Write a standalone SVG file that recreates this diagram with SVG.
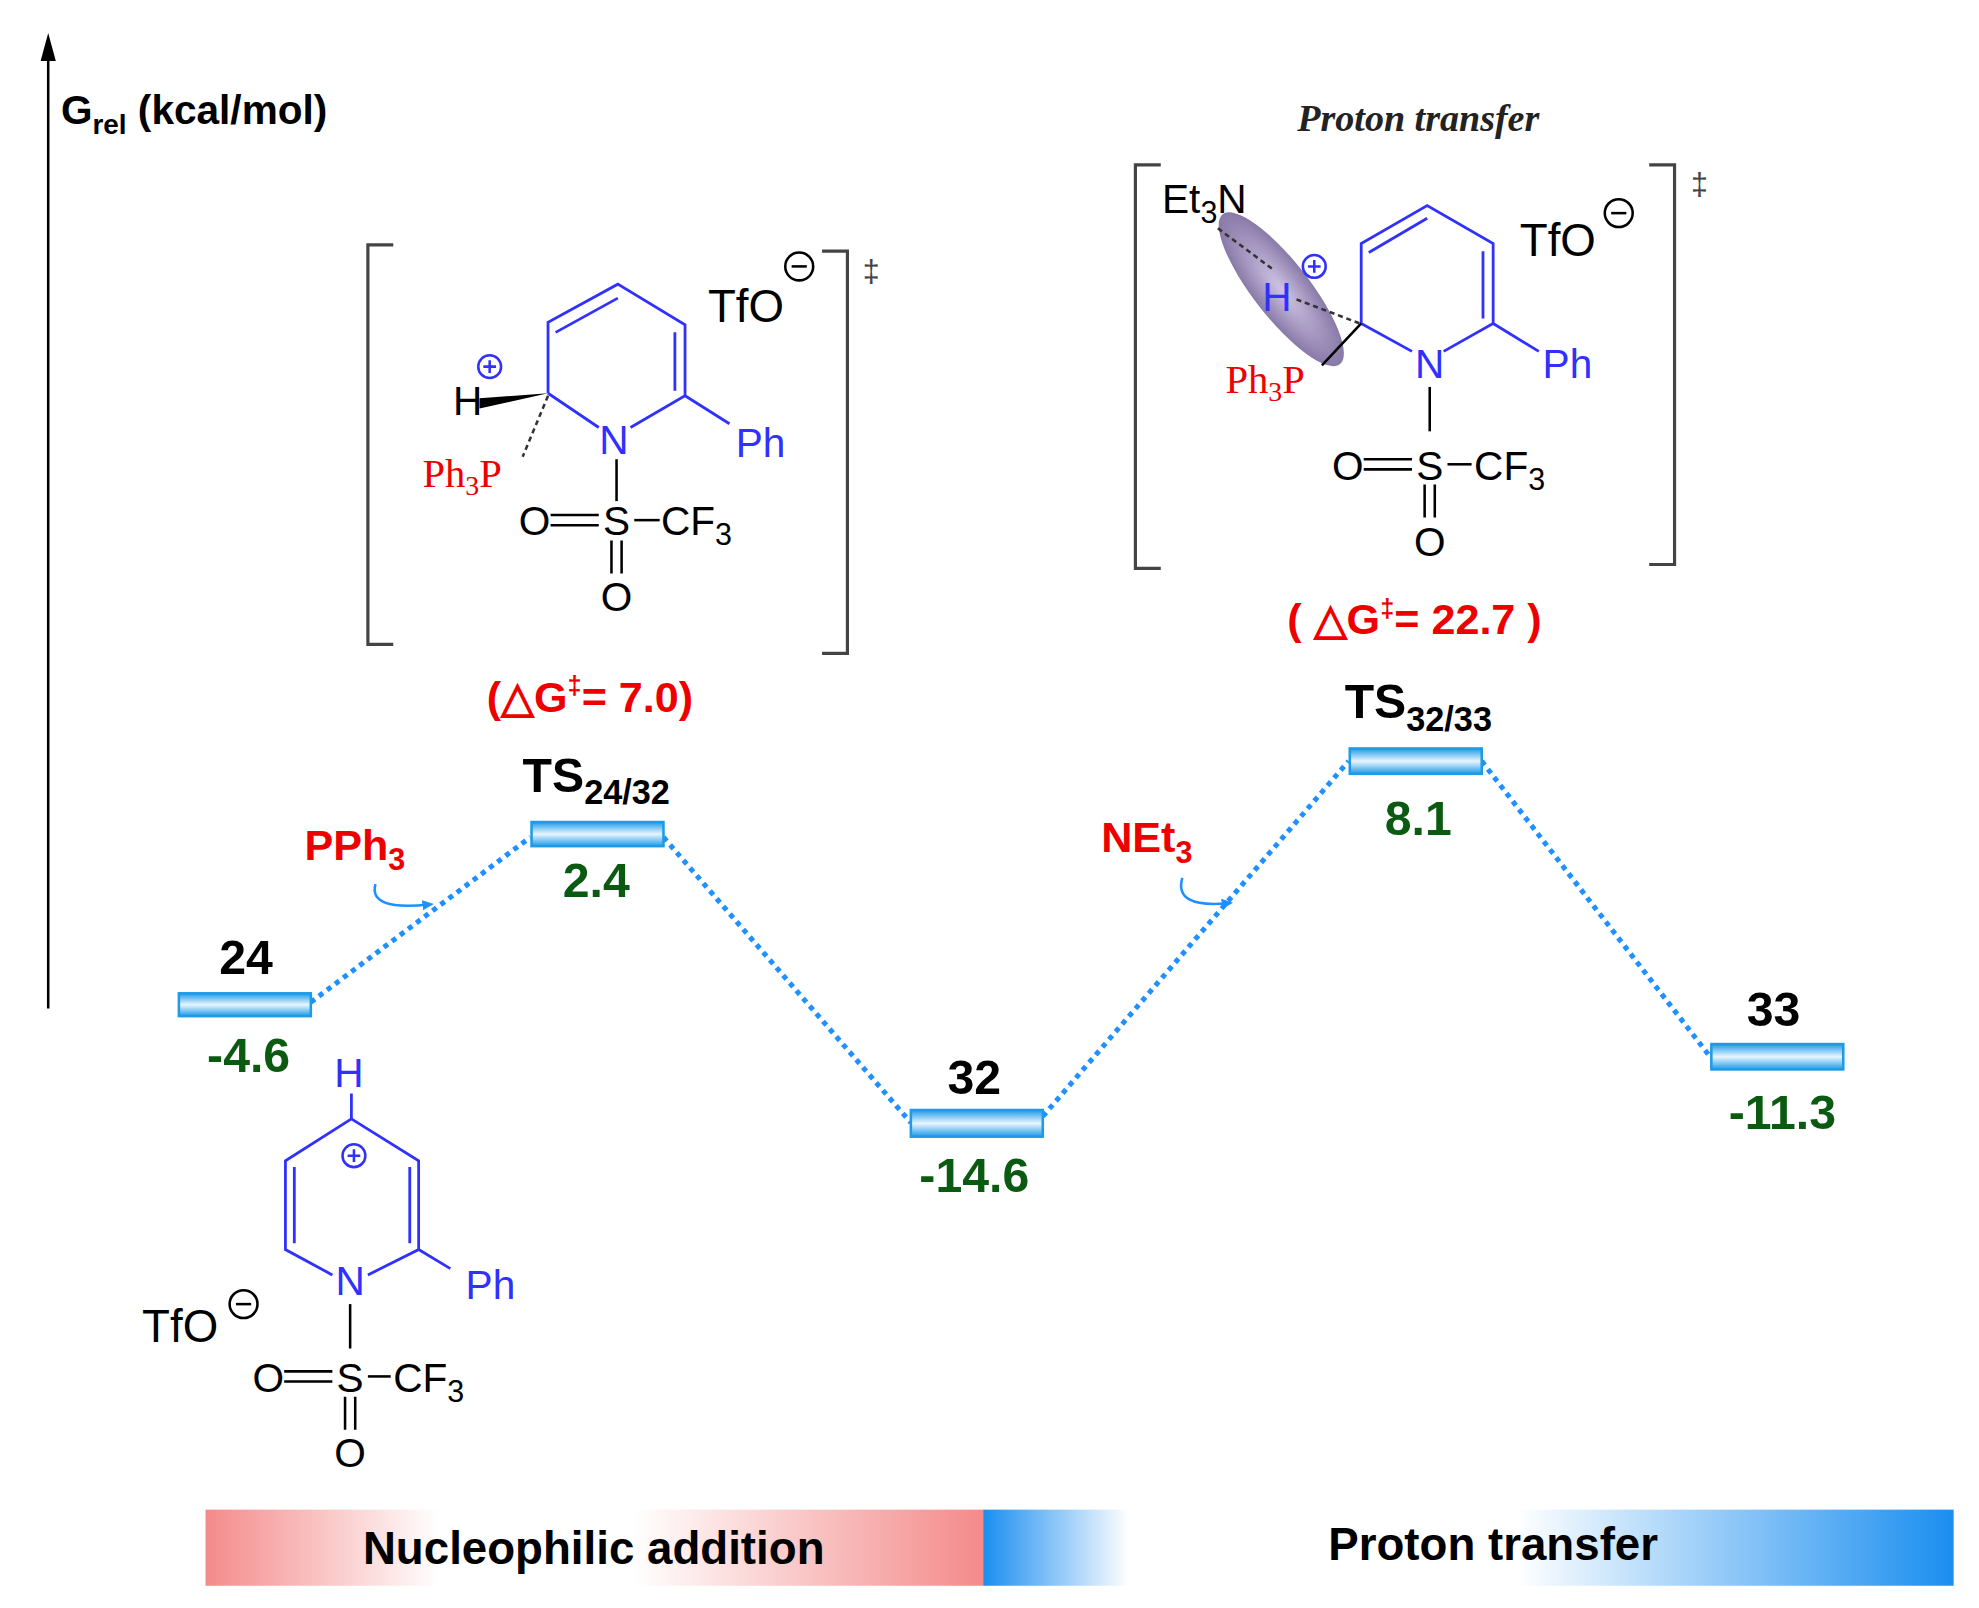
<svg xmlns="http://www.w3.org/2000/svg" width="1979" height="1608" viewBox="0 0 1979 1608">
<defs>
<linearGradient id="bar" x1="0" y1="0" x2="0" y2="1"><stop offset="0" stop-color="#1e9be8"/><stop offset="0.5" stop-color="#e8f6ff"/><stop offset="1" stop-color="#1e9be8"/></linearGradient>
<linearGradient id="pink" x1="0" y1="0" x2="1" y2="0"><stop offset="0" stop-color="#f48a8a"/><stop offset="0.3" stop-color="#fff"/><stop offset="0.55" stop-color="#fff"/><stop offset="1" stop-color="#f48a8a"/></linearGradient>
<linearGradient id="blue" x1="0" y1="0" x2="1" y2="0"><stop offset="0" stop-color="#1a8ef0"/><stop offset="0.15" stop-color="#fff"/><stop offset="0.55" stop-color="#fff"/><stop offset="1" stop-color="#1a8ef0"/></linearGradient>
<radialGradient id="ell"><stop offset="0" stop-color="#c9bce0"/><stop offset="1" stop-color="#7b6a9e"/></radialGradient>
<marker id="ah" markerWidth="10" markerHeight="10" refX="5" refY="5" orient="auto" markerUnits="userSpaceOnUse"><path d="M0,1 L9,5 L0,9 Z" fill="#1e90ff"/></marker>
</defs>
<style>
.b{font-family:"Liberation Sans",Arial,sans-serif;font-weight:bold}
.lvl{font-size:38px;fill:#000;text-anchor:middle}
.val{font-size:38px;fill:#0b5a12;text-anchor:middle}
.mol{font-family:"Liberation Sans",Arial,sans-serif;font-size:32px}
.tfo{font-family:"Liberation Sans",Arial,sans-serif;font-size:36px;fill:#000}
.dd{font-family:"Liberation Sans",Arial,sans-serif;font-size:24px;fill:#444}
.ser{font-family:"Liberation Serif","Times New Roman",serif;font-size:32px;fill:#e00}
.bl{stroke:#3030ff;stroke-width:2.2;fill:none}
.bk{stroke:#000;stroke-width:2;fill:none}
.br{stroke:#444;stroke-width:2.5;fill:none}
.dg{font-size:34px;fill:#e00;text-anchor:middle}
.con{stroke:#1e90ff;stroke-width:4;stroke-dasharray:4 4;fill:none}
.lvbar{fill:url(#bar);stroke:#1e9be8;stroke-width:2}
</style>
<g transform="scale(1.2686)">
<g id="axis">
<line x1="38" y1="795" x2="38" y2="45" stroke="#000" stroke-width="2"/>
<path d="M38,26 L44,48 L32,48 Z" fill="#000"/>
<text x="48" y="98" class="b" font-size="32">G<tspan font-size="22" dy="8">rel</tspan><tspan dy="-8"> (kcal/mol)</tspan></text>
</g>

<g id="connectors">
<line class="con" x1="245" y1="790" x2="418" y2="660"/>
<line class="con" x1="523" y1="660" x2="718" y2="885"/>
<line class="con" x1="822" y1="880" x2="1063" y2="600"/>
<line class="con" x1="1168" y1="600" x2="1348" y2="833"/>
<path d="M296,697 Q290,718 338,713" stroke="#1e90ff" stroke-width="2" fill="none" marker-end="url(#ah)"/>
<path d="M932,692 Q925,716 968,712" stroke="#1e90ff" stroke-width="2" fill="none" marker-end="url(#ah)"/>
<text x="240" y="678" class="b" font-size="34" fill="#e00">PPh<tspan font-size="24" dy="8">3</tspan></text>
<text x="868" y="672" class="b" font-size="34" fill="#e00">NEt<tspan font-size="24" dy="8">3</tspan></text>
</g>

<g id="n24">
<rect class="lvbar" x="141" y="783" width="104" height="18"/>
<text x="194" y="768" class="b lvl">24</text>
<text x="196" y="845" class="b val">-4.6</text>
</g>
<g id="ts2432">
<rect class="lvbar" x="419" y="648" width="104" height="19"/>
<text x="470" y="624" class="b lvl">TS<tspan font-size="27" dy="10">24/32</tspan></text>
<text x="470" y="707" class="b val">2.4</text>
</g>
<g id="n32">
<rect class="lvbar" x="718" y="875" width="104" height="21"/>
<text x="768" y="862" class="b lvl">32</text>
<text x="768" y="940" class="b val">-14.6</text>
</g>
<g id="ts3233">
<rect class="lvbar" x="1064" y="590" width="104" height="20"/>
<text x="1118" y="566" class="b lvl">TS<tspan font-size="27" dy="10">32/33</tspan></text>
<text x="1118" y="658" class="b val">8.1</text>
</g>
<g id="n33">
<rect class="lvbar" x="1349" y="823" width="104" height="20"/>
<text x="1398" y="809" class="b lvl">33</text>
<text x="1405" y="890" class="b val">-11.3</text>
</g>

<g id="ts1mol">
<path class="br" d="M310,193 H290 V508 H310"/>
<path class="br" d="M648,198 H668 V515 H648"/>
<text x="680" y="222" class="dd">‡</text>
<path class="bl" d="M432,310 L432,254 L487,224 L540,256 L540,312 L497,337 M472,337 L432,310 M438,262 L487,235 M532,262 L532,308 M540,312 L575,334"/>
<text x="484" y="358" class="mol" fill="#3030ff" text-anchor="middle">N</text>
<text x="580" y="360" class="mol" fill="#3030ff">Ph</text>
<text x="357" y="327" class="mol" fill="#000">H</text>
<path d="M432,310 L378,314 L378,322 Z" fill="#000"/>
<circle cx="386" cy="289" r="9" fill="none" stroke="#3030ff" stroke-width="2"/>
<path d="M381,289 H391 M386,284 V294" stroke="#3030ff" stroke-width="2"/>
<line x1="432" y1="312" x2="412" y2="360" stroke="#333" stroke-width="2" stroke-dasharray="4 3"/>
<text x="333" y="384" class="ser">Ph<tspan font-size="22" dy="6">3</tspan><tspan dy="-6">P</tspan></text>
<line x1="486" y1="362" x2="486" y2="395" class="bk"/>
<text x="409" y="422" class="mol" fill="#000">O</text>
<path class="bk" d="M434,406 H472 M434,414 H472"/>
<text x="486" y="422" class="mol" fill="#000" text-anchor="middle">S</text>
<path class="bk" d="M500,410 H520"/>
<text x="521" y="422" class="mol" fill="#000">CF<tspan font-size="24" dy="8">3</tspan></text>
<path class="bk" d="M482,426 V452 M490,426 V452"/>
<text x="486" y="482" class="mol" fill="#000" text-anchor="middle">O</text>
<text x="558" y="254" class="tfo">TfO</text>
<circle cx="630" cy="210" r="11" fill="none" stroke="#000" stroke-width="2"/>
<line x1="624" y1="210" x2="636" y2="210" stroke="#000" stroke-width="2"/>
<text x="465" y="561" class="b dg">(△G<tspan font-size="20" dy="-14">‡</tspan><tspan dy="14">= 7.0)</tspan></text>
</g>

<g id="ts2mol">
<text x="1118" y="103" font-family="Liberation Serif,serif" font-style="italic" font-weight="bold" font-size="30" text-anchor="middle" fill="#222">Proton transfer</text>
<path class="br" d="M915,130 H895 V448 H915"/>
<path class="br" d="M1300,130 H1320 V445 H1300"/>
<text x="1333" y="154" class="dd">‡</text>
<ellipse cx="1010" cy="228" rx="75" ry="22" transform="rotate(52 1010 228)" fill="url(#ell)" opacity="0.9"/>
<text x="916" y="168" class="mol" fill="#000">Et<tspan font-size="24" dy="8">3</tspan><tspan dy="-8">N</tspan></text>
<line x1="960" y1="180" x2="1003" y2="212" stroke="#333" stroke-width="2" stroke-dasharray="4 3"/>
<text x="995" y="245" class="mol" fill="#3030ff">H</text>
<circle cx="1036" cy="210" r="9" fill="none" stroke="#3030ff" stroke-width="2"/>
<path d="M1031,210 H1041 M1036,205 V215" stroke="#3030ff" stroke-width="2"/>
<line x1="1022" y1="236" x2="1072" y2="255" stroke="#333" stroke-width="2" stroke-dasharray="4 3"/>
<path class="bl" d="M1073,255 L1073,192 L1125,162 L1177,192 L1177,255 L1138,277 M1113,277 L1073,255 M1079,199 L1125,172 M1169,198 L1169,251 M1177,255 L1213,277"/>
<text x="1127" y="298" class="mol" fill="#3030ff" text-anchor="middle">N</text>
<text x="1216" y="298" class="mol" fill="#3030ff">Ph</text>
<line x1="1073" y1="255" x2="1042" y2="288" stroke="#000" stroke-width="2"/>
<text x="966" y="310" class="ser">Ph<tspan font-size="22" dy="6">3</tspan><tspan dy="-6">P</tspan></text>
<line x1="1127" y1="305" x2="1127" y2="340" class="bk"/>
<text x="1050" y="378" class="mol" fill="#000">O</text>
<path class="bk" d="M1075,362 H1113 M1075,370 H1113"/>
<text x="1127" y="378" class="mol" fill="#000" text-anchor="middle">S</text>
<path class="bk" d="M1141,366 H1160"/>
<text x="1162" y="378" class="mol" fill="#000">CF<tspan font-size="24" dy="8">3</tspan></text>
<path class="bk" d="M1123,382 V408 M1131,382 V408"/>
<text x="1127" y="438" class="mol" fill="#000" text-anchor="middle">O</text>
<text x="1198" y="202" class="tfo">TfO</text>
<circle cx="1276" cy="168" r="11" fill="none" stroke="#000" stroke-width="2"/>
<line x1="1270" y1="168" x2="1282" y2="168" stroke="#000" stroke-width="2"/>
<text x="1115" y="500" class="b dg">( △G<tspan font-size="20" dy="-14">‡</tspan><tspan dy="14">= 22.7 )</tspan></text>
</g>

<g id="mol24">
<text x="275" y="857" class="mol" fill="#3030ff" text-anchor="middle">H</text>
<line x1="277" y1="862" x2="277" y2="882" class="bl"/>
<path class="bl" d="M277,882 L225,915 L225,985 L262,1005 M290,1005 L330,985 L330,915 L277,882 M232,920 L232,980 M323,920 L323,980 M330,985 L355,1000"/>
<circle cx="279" cy="911" r="9" fill="none" stroke="#3030ff" stroke-width="2"/>
<path d="M274,911 H284 M279,906 V916" stroke="#3030ff" stroke-width="2"/>
<text x="276" y="1021" class="mol" fill="#3030ff" text-anchor="middle">N</text>
<text x="367" y="1024" class="mol" fill="#3030ff">Ph</text>
<text x="112" y="1058" class="tfo">TfO</text>
<circle cx="192" cy="1028" r="11" fill="none" stroke="#000" stroke-width="2"/>
<line x1="186" y1="1028" x2="198" y2="1028" stroke="#000" stroke-width="2"/>
<line x1="276" y1="1028" x2="276" y2="1063" class="bk"/>
<text x="199" y="1097" class="mol" fill="#000">O</text>
<path class="bk" d="M224,1081 H262 M224,1089 H262"/>
<text x="276" y="1097" class="mol" fill="#000" text-anchor="middle">S</text>
<path class="bk" d="M290,1085 H308"/>
<text x="310" y="1097" class="mol" fill="#000">CF<tspan font-size="24" dy="8">3</tspan></text>
<path class="bk" d="M272,1101 V1127 M280,1101 V1127"/>
<text x="276" y="1156" class="mol" fill="#000" text-anchor="middle">O</text>
</g>

<g id="phases">
<rect x="162" y="1190" width="613" height="60" fill="url(#pink)"/>
<rect x="775" y="1190" width="765" height="60" fill="url(#blue)"/>
<text x="468" y="1233" class="b" font-size="36" text-anchor="middle">Nucleophilic addition</text>
<text x="1177" y="1230" class="b" font-size="36" text-anchor="middle">Proton transfer</text>
</g>
</g>
</svg>
